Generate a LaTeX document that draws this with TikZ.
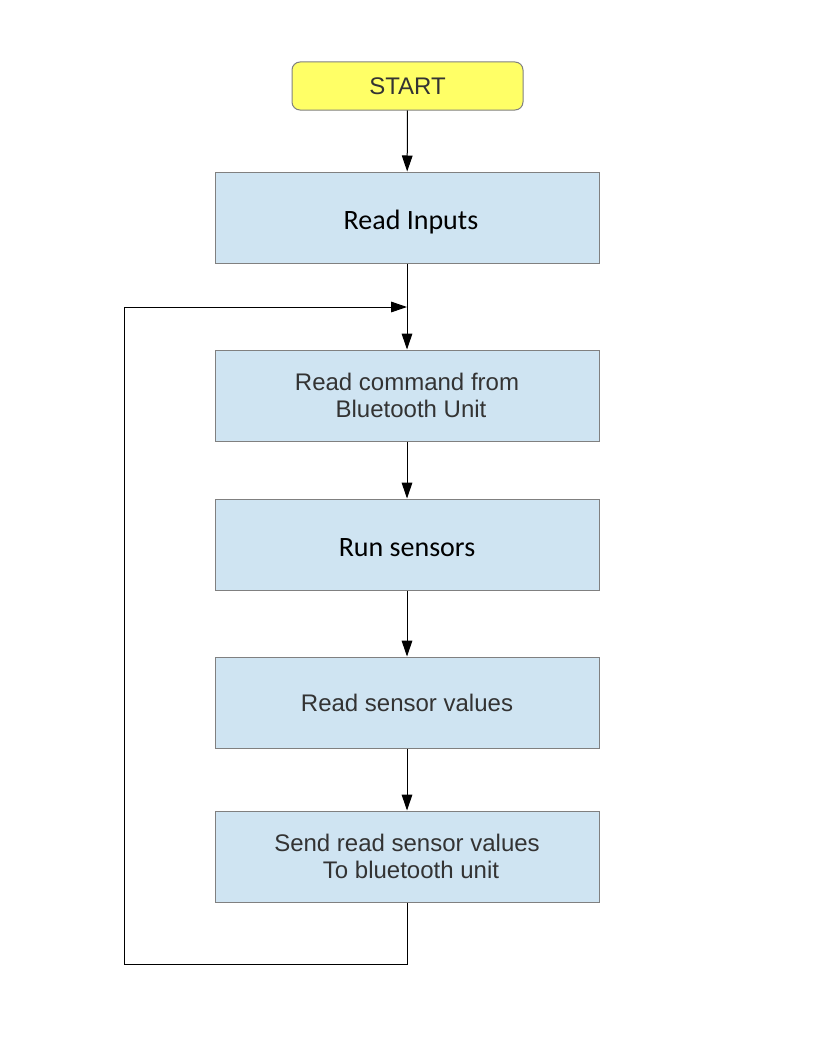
\documentclass[tikz,border=0pt]{standalone}
\usepackage{fontspec}
\setmainfont{Liberation Sans}
\newfontfamily\calibri{Carlito}
\usetikzlibrary{arrows.meta}
\definecolor{boxblue}{HTML}{CFE4F2}
\definecolor{startyellow}{HTML}{FFFF66}
\definecolor{bordergrey}{HTML}{808080}
\definecolor{txt}{HTML}{333333}
\begin{document}
\begin{tikzpicture}[x=0.75pt,y=-0.75pt,
  procbox/.style={draw=bordergrey, line width=0.75pt, fill=boxblue, minimum width=288pt, minimum height=68.25pt, inner sep=0pt, align=center, text=txt, font=\fontsize{18}{20.25}\selectfont},
  calbox/.style={procbox, text=black, font=\calibri\fontsize{21}{24}\selectfont},
  startbox/.style={draw=bordergrey, line width=0.75pt, fill=startyellow, rounded corners=6pt, minimum width=173.25pt, minimum height=36pt, inner sep=0pt, text=txt, font=\fontsize{18}{20.25}\selectfont},
  conn/.style={draw=black, line width=0.75pt},
  arr/.style={conn, -{Triangle[length=12pt,width=8pt]}}
]
\useasboundingbox (0,0) rectangle (816,1056);
\node[startbox] (start) at (407.5,86) {START};
\node[calbox] (in) at (407,217.5) {\raisebox{-3.75pt}[\height][\depth]{\hspace{6pt}Read Inputs}};
\node[procbox] (cmd) at (407,395.5) {Read command from\\ \hspace{6pt}Bluetooth Unit};
\node[calbox] (run) at (407,544.5) {\raisebox{-2.25pt}[\height][\depth]{Run sensors}};
\node[procbox] (val) at (407,702.5) {Read sensor values};
\node[procbox] (send) at (407,856.5) {Send read sensor values\\ \hspace{6pt}To bluetooth unit};
\coordinate (loop) at (407,307);
\coordinate (b1) at (407,964);
\coordinate (b2) at (124,964);
\coordinate (t2) at (124,307);
\draw[arr] (start) -- (in);
\draw[arr] (in) -- (cmd);
\draw[arr] (cmd) -- (run);
\draw[arr] (run) -- (val);
\draw[arr] (val) -- (send);
\draw[arr] (send) -- (b1) -- (b2) -- (t2) -- (loop);
\end{tikzpicture}
\end{document}
